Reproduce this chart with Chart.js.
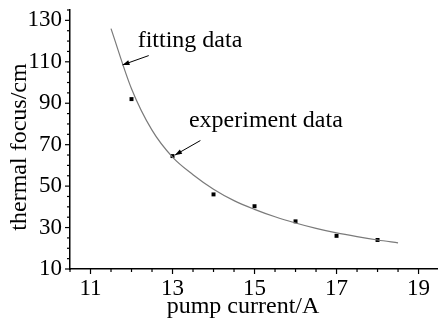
<!DOCTYPE html>
<html>
<head>
<meta charset="utf-8">
<script src="https://cdn.jsdelivr.net/npm/chart.js@4/dist/chart.umd.min.js"></script>
<style>
  html, body { margin: 0; padding: 0; background: #fff; }
  #wrap { width: 441px; height: 320px; position: relative; }
</style>
</head>
<body>
<div id="wrap"><canvas id="c"></canvas></div>
<script>
// experiment points
const expCurrent = [12, 13, 14, 15, 16, 17, 18]
const expFocus = [92, 64.5, 46, 40.3, 33, 26, 24]

// fitting curve
const fitCurrent = [11.5, 12, 12.5, 13, 13.5, 14, 14.5, 15, 15.5, 16, 16.5, 17, 17.5, 18, 18.5]
const fitFocus = [126, 97, 77, 64, 55.5, 48.5, 43, 38.8, 35.2, 32.2, 29.6, 27.4, 25.6, 24, 22.6]

const xMajor = [11, 13, 15, 17, 19]
const yMajor = [10, 30, 50, 70, 90, 110, 130]

const FONT = '"Liberation Serif", "Times New Roman", serif'

// labels + arrows in data coords
const notes = [
  { text: 'fitting data', x: 12.15, y: 117, from: [12.42, 113], to: [11.78, 108.5] },
  { text: 'experiment data', x: 13.4, y: 78.4, from: [13.68, 72], to: [13.06, 65] },
]

function drawArrow(ctx, x1, y1, x2, y2) {
  ctx.beginPath()
  ctx.moveTo(x1, y1)
  ctx.lineTo(x2, y2)
  ctx.stroke()
  const a = Math.atan2(y2 - y1, x2 - x1)
  const len = 7, w = 2.5
  ctx.beginPath()
  ctx.moveTo(x2, y2)
  ctx.lineTo(x2 - len * Math.cos(a) + w * Math.sin(a), y2 - len * Math.sin(a) - w * Math.cos(a))
  ctx.lineTo(x2 - len * Math.cos(a) - w * Math.sin(a), y2 - len * Math.sin(a) + w * Math.cos(a))
  ctx.closePath()
  ctx.fill()
}

const extrasPlugin = {
  id: 'extras',
  afterDraw(chart) {
    const { ctx, chartArea, scales } = chart
    const xs = scales.x, ys = scales.y
    ctx.save()
    ctx.strokeStyle = '#000'
    ctx.fillStyle = '#000'
    ctx.lineWidth = 1.2
    // outward ticks, long on majors
    xs.ticks.forEach((t) => {
      const px = xs.getPixelForValue(t.value)
      const len = xMajor.includes(t.value) ? 5 : 3
      ctx.beginPath()
      ctx.moveTo(px, chartArea.bottom)
      ctx.lineTo(px, chartArea.bottom + len)
      ctx.stroke()
    })
    ys.ticks.forEach((t) => {
      const py = ys.getPixelForValue(t.value)
      const len = yMajor.includes(t.value) ? 5 : 3
      ctx.beginPath()
      ctx.moveTo(chartArea.left, py)
      ctx.lineTo(chartArea.left - len, py)
      ctx.stroke()
    })

    // axis titles
    ctx.font = '24px ' + FONT
    ctx.textAlign = 'center'
    ctx.textBaseline = 'alphabetic'
    ctx.fillText('pump current/A', 243, 313)
    ctx.save()
    ctx.translate(26, 147)
    ctx.rotate(-Math.PI / 2)
    ctx.fillText('thermal focus/cm', 0, 0)
    ctx.restore()

    // annotations
    ctx.textAlign = 'left'
    ctx.lineWidth = 1
    notes.forEach((n) => {
      ctx.fillText(n.text, xs.getPixelForValue(n.x), ys.getPixelForValue(n.y))
      drawArrow(ctx,
        xs.getPixelForValue(n.from[0]), ys.getPixelForValue(n.from[1]),
        xs.getPixelForValue(n.to[0]), ys.getPixelForValue(n.to[1]))
    })
    ctx.restore()
  },
}

new Chart(document.getElementById('c'), {
  type: 'scatter',
  data: {
    datasets: [
      {
        label: 'fitting data',
        data: fitCurrent.map((x, i) => ({ x, y: fitFocus[i] })),
        showLine: true,
        borderColor: '#7a7a7a',
        borderWidth: 1.2,
        pointRadius: 0,
        cubicInterpolationMode: 'monotone',
      },
      {
        label: 'experiment data',
        data: expCurrent.map((x, i) => ({ x, y: expFocus[i] })),
        pointStyle: 'rect',
        pointRadius: 2.8,
        backgroundColor: '#000',
        borderColor: '#000',
        borderWidth: 0,
      },
    ],
  },
  options: {
    responsive: true,
    maintainAspectRatio: false,
    animation: false,
    layout: { padding: { left: 0, right: 0, top: 10, bottom: 0 } },
    plugins: { legend: { display: false }, tooltip: { enabled: false } },
    scales: {
      x: {
        type: 'linear',
        min: 10.5,
        max: 19.45,
        grid: { display: false, drawTicks: false },
        border: { display: true, color: '#000', width: 1.5 },
        ticks: {
          stepSize: 0.5,
          includeBounds: false,
          autoSkip: false,
          maxRotation: 0,
          padding: 6,
          color: '#000',
          font: { family: FONT, size: 23 },
          callback: (v) => (xMajor.includes(v) ? String(v) : ''),
        },
        afterFit: (s) => {
          s.height = 51
          s.paddingLeft = 0
          s.paddingRight = 0
        },
      },
      y: {
        min: 10,
        max: 135,
        grid: { display: false, drawTicks: false },
        border: { display: true, color: '#000', width: 1.5 },
        ticks: {
          stepSize: 5,
          autoSkip: false,
          padding: 8,
          color: '#000',
          font: { family: FONT, size: 23 },
          callback: (v) => (yMajor.includes(v) ? String(v) : ''),
        },
        afterFit: (s) => {
          s.width = 70
          s.paddingTop = 0
          s.paddingBottom = 0
        },
      },
    },
  },
  plugins: [extrasPlugin],
})
</script>
</body>
</html>
